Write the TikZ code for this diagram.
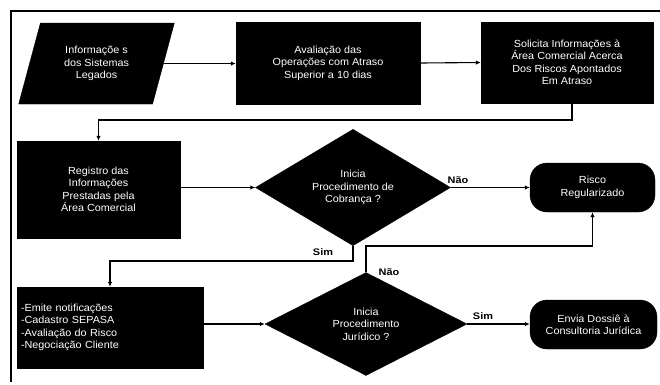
\documentclass[tikz,border=0pt]{standalone}
\usepackage{fontspec}
\setmainfont{Liberation Sans}
\newfontfamily\boxfont{Liberation Sans}[FakeStretch=1.05]
\newfontfamily\tagfont{Liberation Sans}[FakeStretch=1.15]
\usetikzlibrary{shapes.geometric,arrows.meta}

\begin{document}
\begin{tikzpicture}[x=1pt,y=-1pt,
  blk/.style={fill=black,draw=black,text=white,inner sep=0pt,align=center,
    font=\boxfont\fontsize{10.3}{12.5}\selectfont},
  procbox/.style={blk,rectangle},
  iobox/.style={blk,trapezium,trapezium left angle=70,trapezium right angle=110,
    trapezium stretches=true},
  decbox/.style={blk,diamond},
  endbox/.style={blk,rectangle,rounded corners=17pt},
  link/.style={line width=1.1pt,-{Latex[length=5pt,width=4.5pt]}},
  tag/.style={font=\tagfont\bfseries\fontsize{9.5}{11}\selectfont,inner sep=0pt}]

\useasboundingbox (0,0) rectangle (660,384);

% outer frame (top and left edges)
\draw[line width=1.2pt] (660,11) -- (11,11) -- (11,382);

% nodes
\node[iobox,minimum width=157pt,minimum height=81pt] (p1) at (96.5,63.5)
  {Informaçõe s\\dos Sistemas\\Legados};
\node[procbox,minimum width=184pt,minimum height=82pt] (b2) at (328,63)
  {Avaliação das\\Operações com Atraso\\Superior a 10 dias};
\node[procbox,minimum width=172pt,minimum height=81pt] (b3) at (567,62.5)
  {Solicita Informações à\\Área Comercial Acerca\\Dos Riscos Apontados\\Em Atraso};
\node[procbox,minimum width=163pt,minimum height=97pt] (b4) at (98.5,189.5)
  {Registro das\\Informações\\Prestadas pela\\Área Comercial};
\node[decbox,minimum width=195pt,minimum height=99pt] (d1) at (353,187.5)
  {Inicia\\Procedimento de\\Cobrança ?};
\node[endbox,minimum width=125pt,minimum height=49pt] (r1) at (592.5,187.5)
  {Risco\\Regularizado};
\node[procbox,minimum width=186pt,minimum height=81pt,text width=178pt,
  inner xsep=4pt,align=left] (b5) at (110,327.5)
  {-Emite notificações\\-Cadastro SEPASA\\-Avaliação do Risco\\-Negociação Cliente};
\node[decbox,minimum width=202pt,minimum height=103pt] (d2) at (366,324)
  {Inicia\\Procedimento\\Jurídico ?};
\node[endbox,minimum width=127pt,minimum height=49pt] (r2) at (593.5,324.5)
  {Envia Dossiê à\\Consultoria Jurídica};

% routing points
\coordinate (t1) at (572,120);
\coordinate (t2) at (0,261);
\coordinate (t3) at (0,246);

% connectors
\draw[link] (p1.east) -- (p1.east -| b2.west);
\draw[link] (b2.east) -- (b3.west);
\draw[link] (b3.south -| t1) -- (t1) -| (b4.north);
\draw[link] (d1.west -| b4.east) -- (d1.west);
\draw[link] (d1.east) -- (r1.west);
\draw[link] (d1.south) -- (d1.south |- t2) -| (b5.north);
\draw[link] (d2.west -| b5.east) -- (d2.west);
\draw[link] (d2.north) -- (d2.north |- t3) -| (r1.south);
\draw[link] (d2.east) -- (d2.east -| r2.west);

% branch labels
\node[tag] (n1) at (458,180) {Não};
\node[tag] (s1) at (323,252) {Sim};
\node[tag] (n2) at (389,272) {Não};
\node[tag] (s2) at (483,316) {Sim};
\end{tikzpicture}
\end{document}
